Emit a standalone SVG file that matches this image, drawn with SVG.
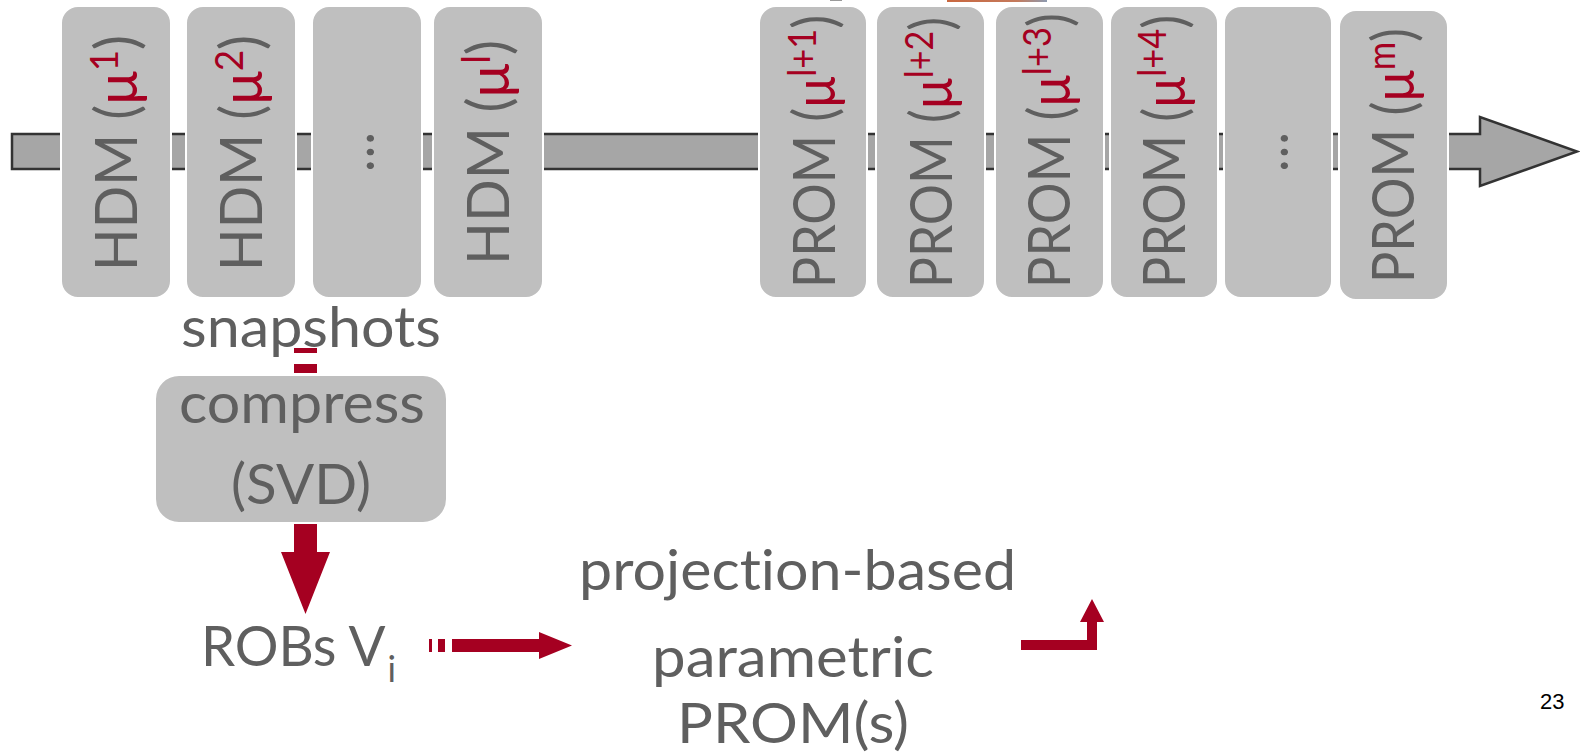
<svg xmlns="http://www.w3.org/2000/svg" width="1580" height="756" viewBox="0 0 1580 756">
<defs>
<linearGradient id="pic" x1="0" y1="0" x2="1" y2="0">
<stop offset="0" stop-color="#c9673f"/>
<stop offset="0.7" stop-color="#c47a5c"/>
<stop offset="1" stop-color="#8c9ab0"/>
</linearGradient>
</defs>
<style>
.box{fill:#bfbfbf;stroke:#ffffff;stroke-width:2}
.vt{font-family:Lato,"Open Sans",sans-serif;font-size:59px;fill:#5f5f5f;font-variant-ligatures:none;font-feature-settings:"liga" 0,"clig" 0,"dlig" 0}
.ht{font-family:Lato,"Open Sans",sans-serif;font-size:57px;fill:#5f5f5f;font-variant-ligatures:none;font-feature-settings:"liga" 0,"clig" 0,"dlig" 0}
.r{fill:#a50021}
.red{fill:#a50021}
.pg{font-family:"Liberation Sans",Arial,sans-serif;font-size:22px;fill:#000}
</style>
<rect width="1580" height="756" fill="#ffffff"/>
<rect x="947" y="0" width="100" height="2" fill="url(#pic)"/>
<rect x="830" y="0" width="12" height="1" fill="#9a9a9a"/>

<g id="timeline">
<path d="M12,134 H1480 V117 L1577,151.5 L1480,186 V169 H12 Z" fill="#a6a6a6" stroke="#333333" stroke-width="2.5" stroke-linejoin="miter"/>
</g>

<g id="hdm1"><rect class="box" x="61" y="6" width="110" height="292" rx="17"/>
<text class="vt" transform="translate(137,271) rotate(-90)" textLength="236" lengthAdjust="spacingAndGlyphs">HDM (<tspan class="r">μ</tspan><tspan class="r" font-size="39" dy="-19">1</tspan><tspan dy="19">)</tspan></text></g>
<g id="hdm2"><rect class="box" x="186" y="6" width="110" height="292" rx="17"/>
<text class="vt" transform="translate(262,271) rotate(-90)" textLength="236" lengthAdjust="spacingAndGlyphs">HDM (<tspan class="r">μ</tspan><tspan class="r" font-size="39" dy="-19">2</tspan><tspan dy="19">)</tspan></text></g>
<g id="hdm-dots"><rect class="box" x="312" y="6" width="110" height="292" rx="17"/>
<text class="vt" transform="translate(374,152) rotate(-90)" text-anchor="middle" textLength="40" lengthAdjust="spacingAndGlyphs">…</text></g>
<g id="hdml"><rect class="box" x="433" y="6" width="110" height="292" rx="17"/>
<text class="vt" transform="translate(509,265) rotate(-90)" textLength="225" lengthAdjust="spacingAndGlyphs">HDM (<tspan class="r">μ</tspan><tspan class="r" font-size="39" dy="-19">l</tspan><tspan dy="19">)</tspan></text></g>

<g id="prom1"><rect class="box" x="759" y="6" width="108" height="292" rx="17"/>
<text class="vt" transform="translate(835,288) rotate(-90)" textLength="273" lengthAdjust="spacingAndGlyphs">PROM (<tspan class="r">μ</tspan><tspan class="r" font-size="39" dy="-19">l+1</tspan><tspan dy="19">)</tspan></text></g>
<g id="prom2"><rect class="box" x="876" y="6" width="109" height="292" rx="17"/>
<text class="vt" transform="translate(952,288) rotate(-90)" textLength="271" lengthAdjust="spacingAndGlyphs">PROM (<tspan class="r">μ</tspan><tspan class="r" font-size="39" dy="-19">l+2</tspan><tspan dy="19">)</tspan></text></g>
<g id="prom3"><rect class="box" x="995" y="6" width="109" height="292" rx="17"/>
<text class="vt" transform="translate(1070,288) rotate(-90)" textLength="275" lengthAdjust="spacingAndGlyphs">PROM (<tspan class="r">μ</tspan><tspan class="r" font-size="39" dy="-19">l+3</tspan><tspan dy="19">)</tspan></text></g>
<g id="prom4"><rect class="box" x="1110" y="6" width="108" height="292" rx="17"/>
<text class="vt" transform="translate(1185,288) rotate(-90)" textLength="273" lengthAdjust="spacingAndGlyphs">PROM (<tspan class="r">μ</tspan><tspan class="r" font-size="39" dy="-19">l+4</tspan><tspan dy="19">)</tspan></text></g>
<g id="prom-dots"><rect class="box" x="1224" y="6" width="108" height="292" rx="17"/>
<text class="vt" transform="translate(1288,152) rotate(-90)" text-anchor="middle" textLength="40" lengthAdjust="spacingAndGlyphs">…</text></g>
<g id="promm"><rect class="box" x="1339" y="10" width="109" height="290" rx="17"/>
<text class="vt" transform="translate(1414,283) rotate(-90)" textLength="255" lengthAdjust="spacingAndGlyphs">PROM (<tspan class="r">μ</tspan><tspan class="r" font-size="39" dy="-19">m</tspan><tspan dy="19">)</tspan></text></g>

<g id="connectors">
<rect class="red" x="294" y="348" width="23" height="5"/>
<rect class="red" x="294" y="364" width="23" height="9"/>
<path class="red" d="M294,520 H317 V552 H330 L305.5,614 L281,552 H294 Z"/>
<rect class="red" x="429" y="639" width="3" height="13"/>
<rect class="red" x="438" y="639" width="7" height="13"/>
<path class="red" d="M452,639 H539 V632 L572,645.5 L539,659 V652 H452 Z"/>
<path class="red" d="M1021,640 H1087 V622 H1080 L1092,599 L1104,622 H1097 V650 H1021 Z"/>
</g>

<g id="snapshots"><text class="ht" x="181" y="347" textLength="260" lengthAdjust="spacingAndGlyphs">snapshots</text></g>
<g id="compress"><rect class="box" x="155" y="375" width="292" height="148" rx="24" stroke-width="3"/>
<text class="ht" x="179" y="423" textLength="246" lengthAdjust="spacingAndGlyphs">compress</text>
<text class="ht" x="231" y="504" font-size="60" textLength="140" lengthAdjust="spacingAndGlyphs">(SVD)</text></g>
<g id="robs"><text class="ht" x="201" y="666" font-size="55" textLength="195" lengthAdjust="spacingAndGlyphs">ROBs V<tspan font-size="37" dx="2" dy="16">i</tspan></text></g>
<g id="prom-parametric">
<text class="ht" x="579" y="590" textLength="437" lengthAdjust="spacingAndGlyphs">projection-based</text>
<text class="ht" x="652" y="677" textLength="282" lengthAdjust="spacingAndGlyphs">parametric</text>
<text class="ht" x="677" y="743" textLength="232" lengthAdjust="spacingAndGlyphs">PROM(s)</text>
</g>
<text class="pg" x="1540" y="709">23</text>
</svg>
